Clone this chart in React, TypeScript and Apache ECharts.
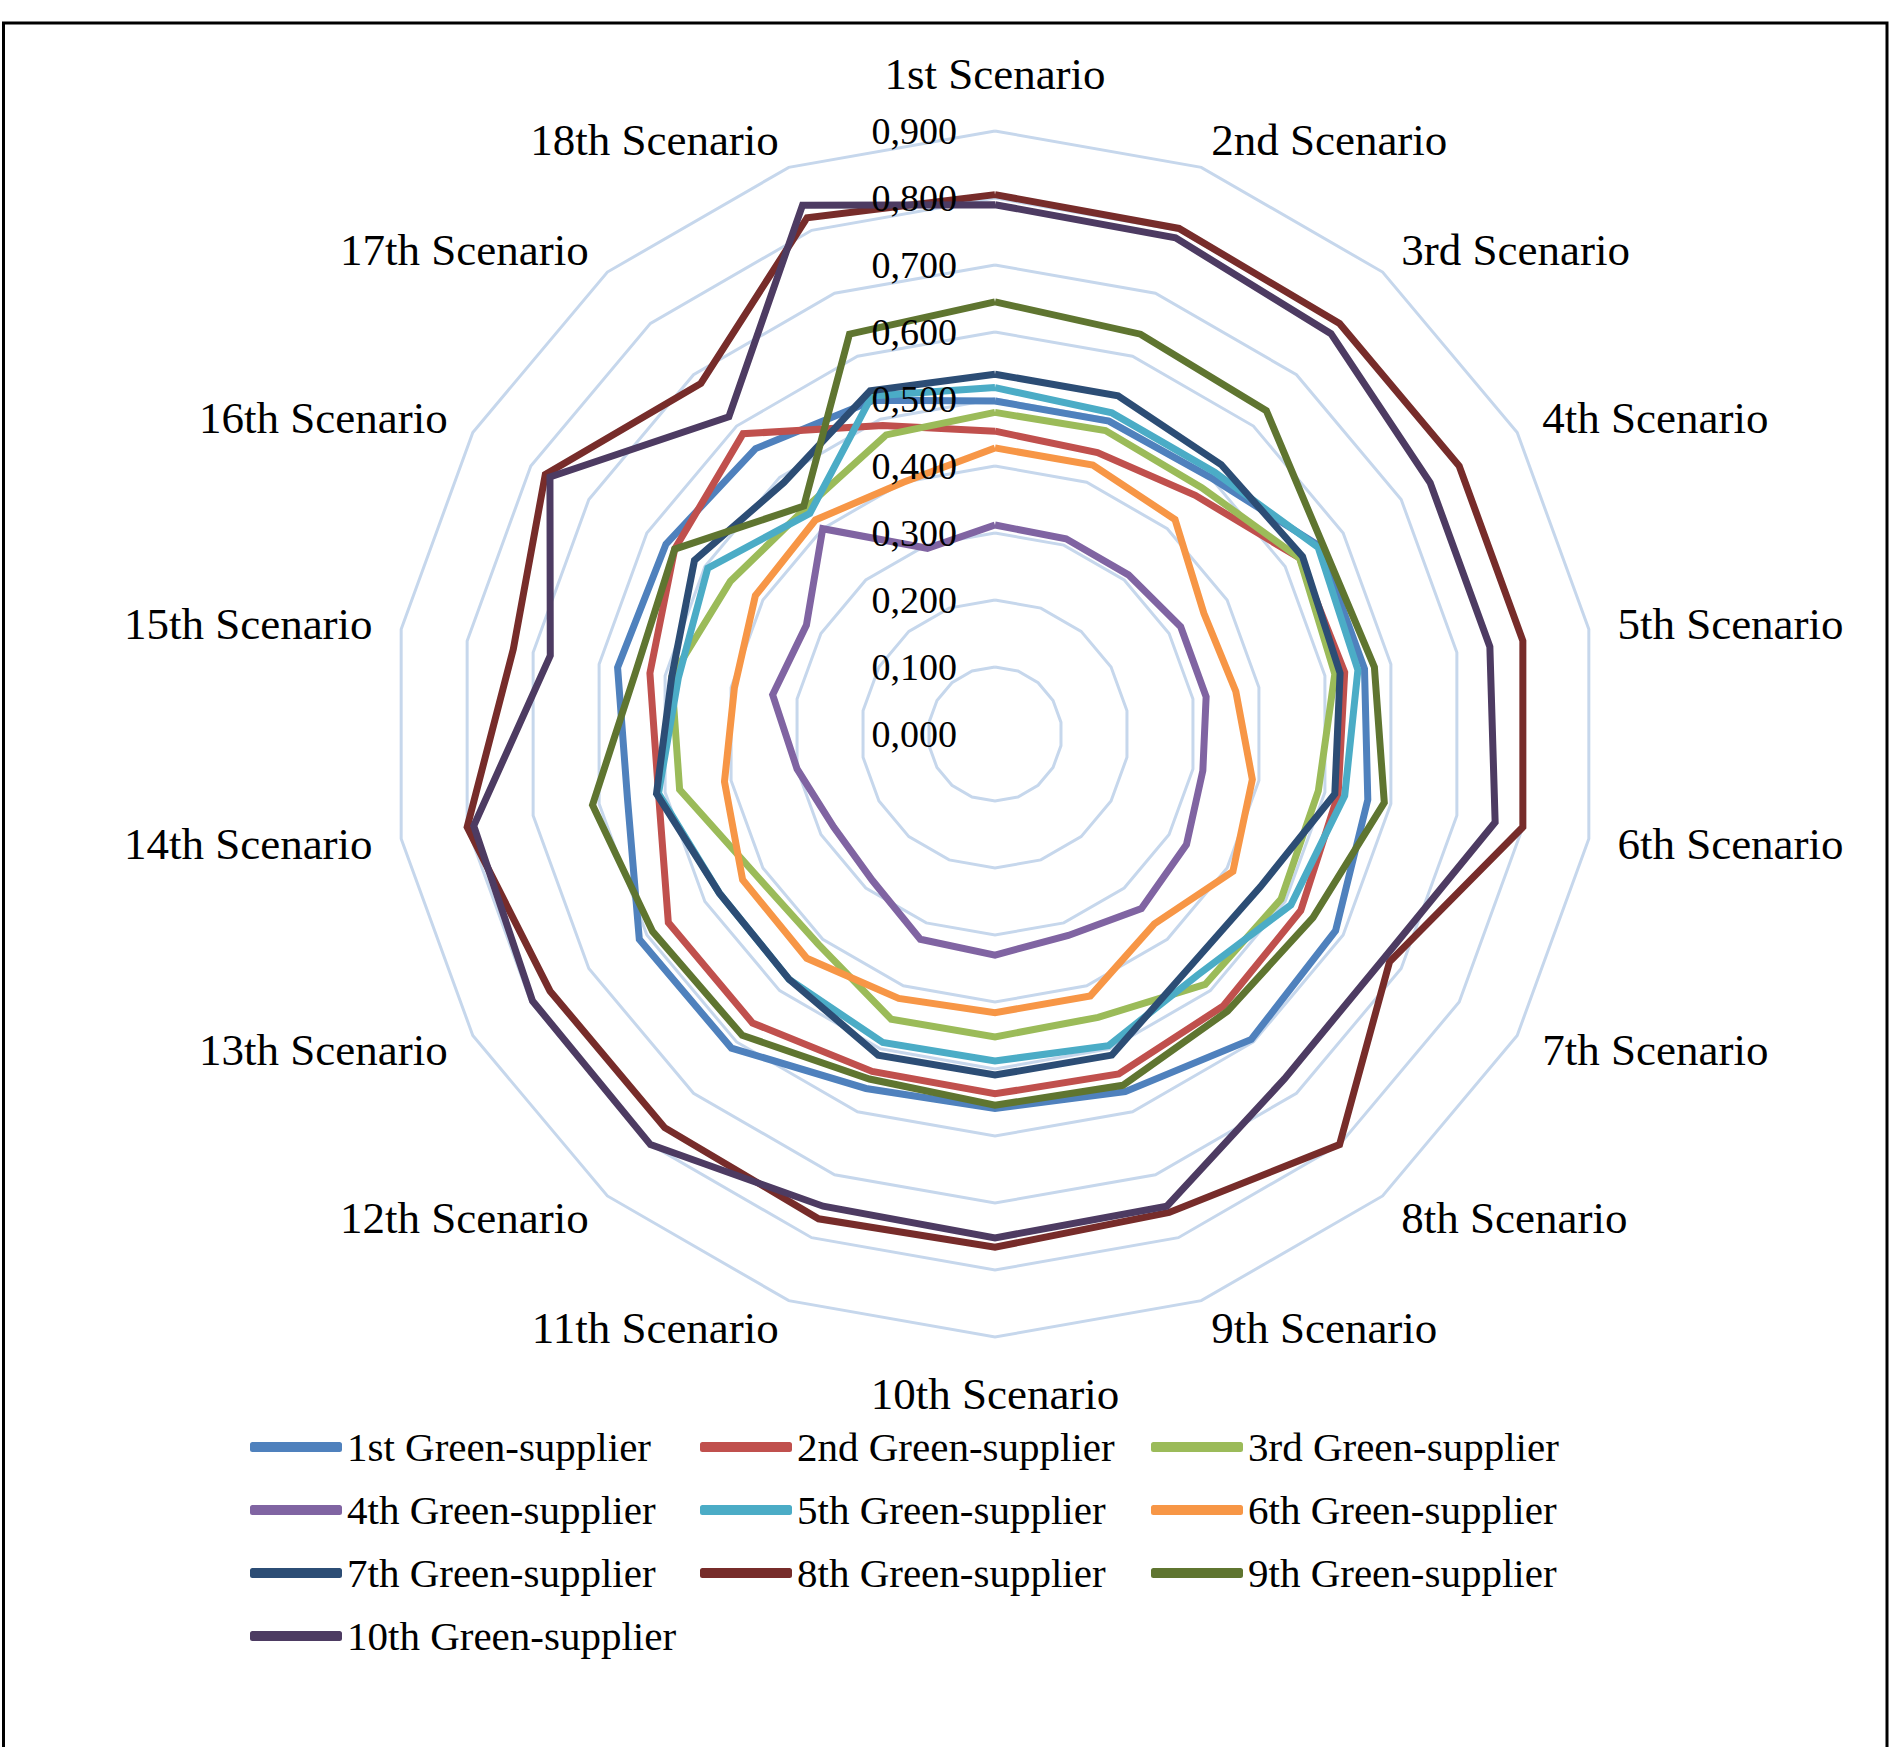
import React, { useEffect, useRef } from "react";
import * as echarts from "echarts";

// axis names, clockwise from the top
const scenarios = [
  "1st Scenario", "2nd Scenario", "3rd Scenario", "4th Scenario", "5th Scenario", "6th Scenario",
  "7th Scenario", "8th Scenario", "9th Scenario", "10th Scenario", "11th Scenario", "12th Scenario",
  "13th Scenario", "14th Scenario", "15th Scenario", "16th Scenario", "17th Scenario", "18th Scenario",
];

const suppliers = [
  "1st Green-supplier", "2nd Green-supplier", "3rd Green-supplier", "4th Green-supplier",
  "5th Green-supplier", "6th Green-supplier", "7th Green-supplier", "8th Green-supplier",
  "9th Green-supplier", "10th Green-supplier",
];

const colors = [
  "#4F81BD", "#C0504D", "#9BBB59", "#8064A2", "#4BACC6",
  "#F79646", "#2C4D75", "#772C2A", "#5F7530", "#4D3B62",
];

// values per scenario (1st..18th) for each supplier
const g1 = [0.497, 0.497, 0.5, 0.56, 0.56, 0.565, 0.587, 0.595, 0.568, 0.559, 0.563, 0.612, 0.613, 0.557, 0.572, 0.567, 0.556, 0.53];
const g2 = [0.452, 0.447, 0.465, 0.525, 0.53, 0.52, 0.527, 0.53, 0.54, 0.537, 0.536, 0.563, 0.563, 0.51, 0.523, 0.552, 0.585, 0.49];
const g3 = [0.48, 0.482, 0.48, 0.525, 0.515, 0.49, 0.493, 0.488, 0.45, 0.452, 0.453, 0.41, 0.415, 0.478, 0.49, 0.456, 0.44, 0.475];
const g4 = [0.312, 0.31, 0.31, 0.32, 0.32, 0.315, 0.33, 0.34, 0.32, 0.33, 0.326, 0.285, 0.278, 0.3, 0.337, 0.325, 0.4, 0.295];
const g5 = [0.517, 0.51, 0.51, 0.557, 0.55, 0.53, 0.51, 0.47, 0.495, 0.488, 0.49, 0.478, 0.475, 0.51, 0.48, 0.495, 0.43, 0.537];
const g6 = [0.427, 0.427, 0.418, 0.36, 0.365, 0.39, 0.41, 0.37, 0.416, 0.416, 0.42, 0.437, 0.435, 0.41, 0.395, 0.413, 0.417, 0.4];
const g7 = [0.537, 0.537, 0.525, 0.53, 0.523, 0.515, 0.457, 0.453, 0.51, 0.509, 0.51, 0.478, 0.475, 0.513, 0.49, 0.518, 0.49, 0.545];
const g8 = [0.805, 0.803, 0.8, 0.8, 0.8, 0.8, 0.68, 0.8, 0.76, 0.766, 0.77, 0.767, 0.767, 0.8, 0.73, 0.775, 0.683, 0.82];
const g9 = [0.645, 0.635, 0.63, 0.565, 0.575, 0.59, 0.548, 0.54, 0.558, 0.554, 0.548, 0.587, 0.59, 0.61, 0.544, 0.552, 0.444, 0.635];
const g10 = [0.79, 0.788, 0.78, 0.75, 0.75, 0.758, 0.67, 0.672, 0.75, 0.752, 0.75, 0.8, 0.797, 0.79, 0.674, 0.767, 0.618, 0.84];

const values = [g1, g2, g3, g4, g5, g6, g7, g8, g9, g10];

const axisMax = 0.9;
const FONT = "Liberation Serif";

// echarts radar runs counter-clockwise, the reference runs clockwise
const cw = <T,>(arr: T[]) => arr.map((_, i) => arr[(arr.length - i) % arr.length]);

const App = () => {
  const chartRef = useRef<HTMLDivElement>(null);

  useEffect(() => {
    if (!chartRef.current) return;
    const chart = echarts.init(chartRef.current, undefined, { renderer: "svg" });

    const legendCol = (names: string[], left: number) => ({
      orient: "vertical",
      left,
      top: 1419,
      icon: "roundRect",
      itemWidth: 92,
      itemHeight: 10,
      itemGap: 17,
      data: names,
      textStyle: { fontFamily: FONT, fontSize: 41, color: "#000", lineHeight: 46 },
    });

    const options = {
      animation: false,
      backgroundColor: "#fff",
      color: colors,
      graphic: [
        {
          type: "rect",
          silent: true,
          shape: { x: 3.5, y: 23, width: 1883.5, height: 1800 },
          style: { fill: "none", stroke: "#000", lineWidth: 3 },
        },
      ],
      radar: {
        center: [995, 734],
        radius: 603,
        startAngle: 90,
        splitNumber: 9,
        shape: "polygon",
        axisNameGap: 29,
        axisName: { color: "#000", fontFamily: FONT, fontSize: 45, padding: [5, 0, 6, 0] },
        indicator: cw(scenarios).map((name) => ({ name, min: 0, max: axisMax })),
        splitLine: { lineStyle: { color: "#C6D7EC", width: 3 } },
        splitArea: { show: false },
        axisLine: { show: false },
        axisTick: { show: false },
        axisLabel: { show: false },
      },
      grid: { left: 995, top: 131, width: 1, height: 603 },
      xAxis: { type: "value", show: false },
      yAxis: {
        type: "value",
        min: 0,
        max: axisMax,
        interval: 0.1,
        z: 10,
        axisLine: { show: false },
        axisTick: { show: false },
        splitLine: { show: false },
        axisLabel: {
          margin: 38,
          fontFamily: FONT,
          fontSize: 38,
          color: "#000",
          padding: [0, 0, 7, 0],
          formatter: (v: number) => v.toFixed(3).replace(".", ","),
        },
      },
      legend: [
        legendCol([suppliers[0], suppliers[3], suppliers[6], suppliers[9]], 245),
        legendCol([suppliers[1], suppliers[4], suppliers[7]], 695),
        legendCol([suppliers[2], suppliers[5], suppliers[8]], 1146),
      ],
      series: suppliers.map((name, i) => ({
        name,
        type: "radar",
        symbol: "none",
        lineStyle: { width: 7, color: colors[i], join: "miter" },
        itemStyle: { color: colors[i] },
        data: [{ name, value: cw(values[i]) }],
      })),
    };

    chart.setOption(options as any);

    return () => {
      chart.dispose();
    };
  }, []);

  return (
    <div
      ref={chartRef}
      style={{ position: "absolute", left: 0, top: 0, width: "1892px", height: "1747px" }}
    />
  );
};

export default App;
